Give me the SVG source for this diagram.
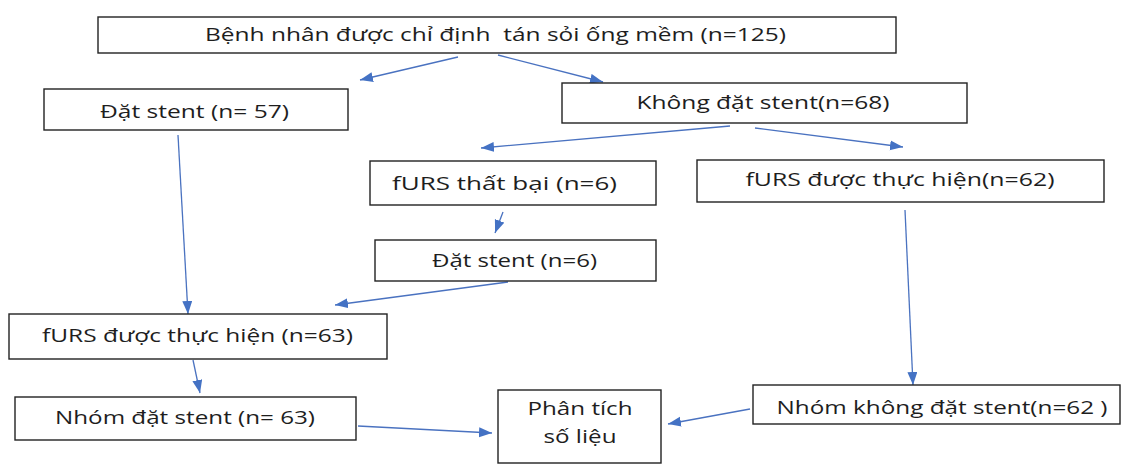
<svg xmlns="http://www.w3.org/2000/svg" width="1124" height="464" viewBox="0 0 1124 464">
<style>
.box{fill:#fff;stroke:#222;stroke-width:1.4}
.t{font-family:"Open Sans","Liberation Sans",sans-serif;font-size:18px;fill:#1e1e1e;text-anchor:middle}
.c{stroke:#4a72c0;stroke-width:1.3;fill:none;marker-end:url(#ah)}
</style>
<defs>
<marker id="ah" markerUnits="userSpaceOnUse" markerWidth="14" markerHeight="12" refX="13" refY="5" orient="auto">
<path d="M0,0 L13,5 L0,10 Z" fill="#4472c4"/>
</marker>
</defs>
<rect width="1124" height="464" fill="#fff"/>
<g id="connectors">
<line class="c" x1="458" y1="57" x2="360" y2="80"/>
<line class="c" x1="498" y1="55" x2="603" y2="82"/>
<line class="c" x1="730" y1="126" x2="481" y2="148"/>
<line class="c" x1="755" y1="128" x2="903" y2="147"/>
<line class="c" x1="503" y1="212" x2="495" y2="233"/>
<line class="c" x1="178" y1="135" x2="188" y2="314"/>
<line class="c" x1="508" y1="282" x2="335" y2="305"/>
<line class="c" x1="905" y1="210" x2="913" y2="385"/>
<line class="c" x1="193" y1="360" x2="200" y2="393"/>
<line class="c" x1="358" y1="426" x2="492" y2="433"/>
<line class="c" x1="750" y1="409" x2="668" y2="424"/>
</g>
<g id="n-top">
<rect class="box" x="98" y="17" width="798" height="36"/>
<text class="t" x="495.5" y="41" textLength="581" lengthAdjust="spacingAndGlyphs" xml:space="preserve">Bệnh nhân được chỉ định  tán sỏi ống mềm (n=125)</text>
</g>
<g id="n-dat57">
<rect class="box" x="44" y="89" width="304" height="41"/>
<text class="t" x="194.5" y="118" textLength="189" lengthAdjust="spacingAndGlyphs">Đặt stent (n= 57)</text>
</g>
<g id="n-khong">
<rect class="box" x="562" y="83" width="405" height="40"/>
<text class="t" x="763" y="109" textLength="253" lengthAdjust="spacingAndGlyphs">Không đặt stent(n=68)</text>
</g>
<g id="n-thatbai">
<rect class="box" x="370" y="161" width="286" height="44"/>
<text class="t" x="504.5" y="190" textLength="225" lengthAdjust="spacingAndGlyphs">fURS thất bại (n=6)</text>
</g>
<g id="n-furs62">
<rect class="box" x="697" y="160" width="407" height="42"/>
<text class="t" x="900" y="186" textLength="309" lengthAdjust="spacingAndGlyphs">fURS được thực hiện(n=62)</text>
</g>
<g id="n-dat6">
<rect class="box" x="375" y="240" width="281" height="41"/>
<text class="t" x="514.5" y="267" textLength="165" lengthAdjust="spacingAndGlyphs">Đặt stent (n=6)</text>
</g>
<g id="n-furs63">
<rect class="box" x="9" y="314" width="378" height="45"/>
<text class="t" x="197.5" y="342" textLength="311" lengthAdjust="spacingAndGlyphs">fURS được thực hiện (n=63)</text>
</g>
<g id="n-nhomdat">
<rect class="box" x="15" y="397" width="341" height="43"/>
<text class="t" x="185" y="424" textLength="260" lengthAdjust="spacingAndGlyphs">Nhóm đặt stent (n= 63)</text>
</g>
<g id="n-phantich">
<rect class="box" x="498" y="390" width="163" height="73"/>
<text class="t" x="580" y="415" textLength="105" lengthAdjust="spacingAndGlyphs">Phân tích</text>
<text class="t" x="580" y="443" textLength="73" lengthAdjust="spacingAndGlyphs">số liệu</text>
</g>
<g id="n-nhomkhong">
<rect class="box" x="753" y="385" width="367" height="39"/>
<text class="t" x="942" y="414" textLength="331" lengthAdjust="spacingAndGlyphs">Nhóm không đặt stent(n=62 )</text>
</g>
</svg>
